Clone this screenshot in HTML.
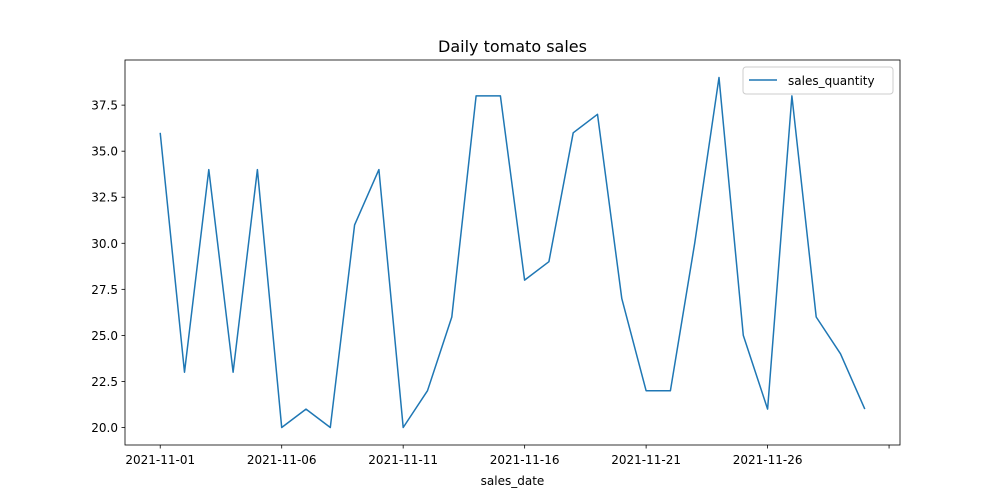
<!DOCTYPE html>
<html><head><meta charset="utf-8"><style>
body{margin:0;background:#fff;font-family:"DejaVu Sans","Liberation Sans",sans-serif;}
svg text{font-family:"DejaVu Sans","Liberation Sans",sans-serif;fill:#000;}
</style></head><body>
<svg id="chart" width="1000" height="500" xmlns="http://www.w3.org/2000/svg">
<rect width="1000" height="500" fill="#fff"/>
<text x="512.5" y="52" text-anchor="middle" font-size="16">Daily tomato sales</text>
<g id="axes"></g>
</svg>
<script>
const dayIndex = [0,1,2,3,4,5,6,7,8,9,10,11,12,13,14,15,16,17,18,19,20,21,22,23,24,25,26,27,28,29];
const salesQuantity = [36,23,34,23,34,20,21,20,31,34,20,22,26,38,38,28,29,36,37,27,22,22,30,39,25,21,38,26,24,21];
const xTickDays = [0,5,10,15,20,25,30];
const xTickLabels = ["2021-11-01","2021-11-06","2021-11-11","2021-11-16","2021-11-21","2021-11-26",""];
const yTicks = [20,22.5,25,27.5,30,32.5,35,37.5];

const L=125,R=900,T=60,B=445;
const xmin=-1.45,xmax=30.45,ymin=19.05,ymax=39.95;
const xs=v=>L+(v-xmin)/(xmax-xmin)*(R-L);
const ys=v=>B-(v-ymin)/(ymax-ymin)*(B-T);
const NS="http://www.w3.org/2000/svg";
const g=document.getElementById('axes');
function mk(tag,attrs){const e=document.createElementNS(NS,tag);for(const k in attrs)e.setAttribute(k,attrs[k]);g.appendChild(e);return e;}

xTickDays.forEach((d,i)=>{
  const x=xs(d);
  const t=mk('line',{x1:x,x2:x,y1:B,y2:B+3.5,stroke:'#000','stroke-width':0.8});
  
  
  const tx=mk('text',{x:x,y:B+19,'text-anchor':'middle','font-size':'12'});
  tx.textContent=xTickLabels[i];
  
  
});
yTicks.forEach(v=>{
  const y=ys(v);
  const t=mk('line',{x1:L-3.5,x2:L,y1:y,y2:y,stroke:'#000','stroke-width':0.8});
  
  
  const tx=mk('text',{x:L-7,y:y+4.5,'text-anchor':'end','font-size':'12'});
  tx.textContent=v.toFixed(1);
  
  
});
const pts=dayIndex.map((d,i)=>xs(d).toFixed(1)+','+ys(salesQuantity[i]).toFixed(1)).join(' ');
const line=mk('polyline',{points:pts,fill:'none',stroke:'#1f77b4','stroke-width':1.5,'stroke-linejoin':'round'});


const frame=mk('rect',{x:L,y:T,width:R-L,height:B-T,fill:'none',stroke:'#000','stroke-width':0.8});


const xl=mk('text',{x:(L+R)/2,y:485,'text-anchor':'middle','font-size':'12'});
xl.textContent='sales_date';


const lg=mk('rect',{x:743,y:67,width:150,height:27,fill:'#fff',stroke:'#ccc','stroke-width':1,rx:3});


const ll=mk('line',{x1:749,x2:777,y1:80,y2:80,stroke:'#1f77b4','stroke-width':1.5});


const lt=mk('text',{x:788,y:85,'font-size':'12'});
lt.textContent='sales_quantity';


</script>
</body></html>
